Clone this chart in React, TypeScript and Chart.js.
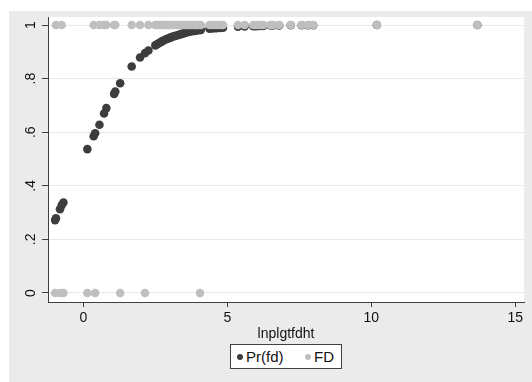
import React, { useEffect, useRef } from "react";
import { Chart, registerables } from "chart.js";
Chart.register(...registerables);

// observations: x value, predicted probability Pr(fd), observed FD (0/1)
const obsX = [
  -0.98, -0.95, -0.81, -0.75, -0.69,
  0.14, 0.36, 0.41, 0.56, 0.72, 0.80, 1.07, 1.11, 1.28,
  1.68, 1.97, 2.14, 2.26,
  2.50, 2.56, 2.62, 2.68, 2.73, 2.78, 2.84, 2.90, 2.95, 3.00,
  3.06, 3.12, 3.18, 3.24, 3.30, 3.36, 3.42, 3.48, 3.55, 3.62,
  3.70, 3.78, 3.86, 3.93, 3.98,
  4.05, 4.08, 4.38, 4.50, 4.62, 4.75, 4.85,
  5.37, 5.60, 5.90, 6.00, 6.13, 6.25, 6.50, 6.60, 6.80,
  7.20, 7.58, 7.80, 7.98, 10.19, 13.68,
];
const prFd = [
  0.272, 0.279, 0.313, 0.328, 0.338,
  0.537, 0.585, 0.596, 0.628, 0.670, 0.690, 0.743, 0.752, 0.783,
  0.845, 0.879, 0.895, 0.905,
  0.924, 0.928, 0.932, 0.936, 0.939, 0.942, 0.945, 0.948, 0.950, 0.952,
  0.955, 0.957, 0.959, 0.961, 0.963, 0.965, 0.967, 0.969, 0.971, 0.973,
  0.975, 0.977, 0.978, 0.980, 0.981,
  0.982, 0.982, 0.986, 0.987, 0.988, 0.989, 0.990,
  0.994, 0.995, 0.996, 0.996, 0.997, 0.997, 0.998, 0.998, 0.998,
  0.999, 0.999, 0.999, 0.999, 1.0, 1.0,
];
const fdVal = [
  0, 1, 0, 1, 0,
  0, 1, 0, 1, 1, 1, 1, 1, 0,
  1, 1, 0, 1,
  1, 1, 1, 1, 1, 1, 1, 1, 1, 1,
  1, 1, 1, 1, 1, 1, 1, 1, 1, 1,
  1, 1, 1, 1, 1,
  0, 1, 1, 1, 1, 1, 1,
  1, 1, 1, 1, 1, 1, 1, 1, 1,
  1, 1, 1, 1, 1, 1,
];

const xTicks = [0, 5, 10, 15];
const yTicks = [0, 0.2, 0.4, 0.6, 0.8, 1];
const yTickLabels = ["0", ".2", ".4", ".6", ".8", "1"];
const seriesNames = ["Pr(fd)", "FD"];
const xTitle = "lnplgtfdht";

const DARK = "#3d3d3d";
const LIGHT = "#bfbfbf";
const FONT = "'Liberation Sans', Arial, sans-serif";

const plotBg = {
  id: "plotBg",
  beforeDraw(chart: any) {
    const { ctx, chartArea } = chart;
    if (!chartArea) return;
    ctx.save();
    ctx.fillStyle = "#ffffff";
    ctx.fillRect(chartArea.left, chartArea.top, chartArea.right - chartArea.left, chartArea.bottom - chartArea.top);
    ctx.restore();
  },
};

export default function App() {
  const ref = useRef<HTMLCanvasElement | null>(null);
  useEffect(() => {
    if (!ref.current) return;
    const chart = new Chart(ref.current, {
      type: "scatter",
      data: {
        datasets: [
          {
            label: seriesNames[0],
            data: obsX.map((x, i) => ({ x, y: prFd[i] })),
            backgroundColor: DARK,
            borderWidth: 0,
            pointRadius: 4.3,
            order: 1,
          },
          {
            label: seriesNames[1],
            data: obsX.map((x, i) => ({ x, y: fdVal[i] })),
            backgroundColor: LIGHT,
            borderWidth: 0,
            pointRadius: 4.3,
            order: 0,
          },
        ],
      },
      options: {
        responsive: false,
        animation: false,
        layout: { padding: { top: 6, right: 8, bottom: 38, left: 0 } },
        plugins: { legend: { display: false }, tooltip: { enabled: false } },
        scales: {
          x: {
            type: "linear",
            min: -1.226,
            max: 15.3,
            afterBuildTicks: (s: any) => {
              s.ticks = xTicks.map((v) => ({ value: v }));
            },
            afterFit: (s: any) => {
              s.height = 42;
              s.paddingLeft = 0;
              s.paddingRight = 0;
            },
            border: { display: true, color: "#404040", width: 1 },
            grid: { drawOnChartArea: false, drawTicks: true, tickLength: 5, tickColor: "#404040" },
            ticks: {
              maxRotation: 0,
              padding: 3,
              color: "#111",
              font: { family: FONT, size: 14 },
              callback: (v: any) => String(v),
            },
            title: {
              display: true,
              text: xTitle,
              color: "#111",
              font: { family: FONT, size: 14 },
              padding: { top: 0, bottom: 1 },
            },
          },
          y: {
            type: "linear",
            min: -0.0336,
            max: 1.03,
            afterBuildTicks: (s: any) => {
              s.ticks = yTicks.map((v) => ({ value: v }));
            },
            afterFit: (s: any) => {
              s.width = 39;
              s.paddingTop = 0;
              s.paddingBottom = 0;
            },
            border: { display: true, color: "#404040", width: 1 },
            grid: { color: "#e8e8e8", lineWidth: 1, drawTicks: true, tickLength: 6, tickColor: "#404040" },
            ticks: {
              minRotation: 90,
              maxRotation: 90,
              crossAlign: "center",
              padding: 5,
              color: "#111",
              font: { family: FONT, size: 14 },
              callback: (v: any) => {
                const idx = yTicks.findIndex((t) => Math.abs(t - v) < 1e-9);
                return idx >= 0 ? yTickLabels[idx] : "";
              },
            },
          },
        },
      },
      plugins: [plotBg],
    } as any);
    return () => chart.destroy();
  }, []);

  const dot = (color: string, left: number) => (
    <span
      style={{
        position: "absolute",
        left: left - 3,
        top: 9,
        width: 6,
        height: 6,
        borderRadius: "50%",
        background: color,
      }}
    />
  );

  return (
    <div
      style={{
        position: "absolute",
        left: 9,
        top: 11,
        width: 523,
        height: 371,
        background: "#ebebeb",
        fontFamily: FONT,
      }}
    >
      <canvas ref={ref} width={523} height={371} style={{ display: "block", width: 523, height: 371 }} />
      <div
        style={{
          position: "absolute",
          left: 221,
          top: 333,
          width: 110,
          height: 23,
          background: "#ffffff",
          border: "1px solid #404040",
        }}
      >
        {dot(DARK, 9)}
        <span style={{ position: "absolute", left: 15, top: 3, fontSize: 15, lineHeight: "17px", color: "#111" }}>
          {seriesNames[0]}
        </span>
        {dot(LIGHT, 77)}
        <span style={{ position: "absolute", left: 83, top: 3, fontSize: 15, lineHeight: "17px", color: "#111" }}>
          {seriesNames[1]}
        </span>
      </div>
    </div>
  );
}
